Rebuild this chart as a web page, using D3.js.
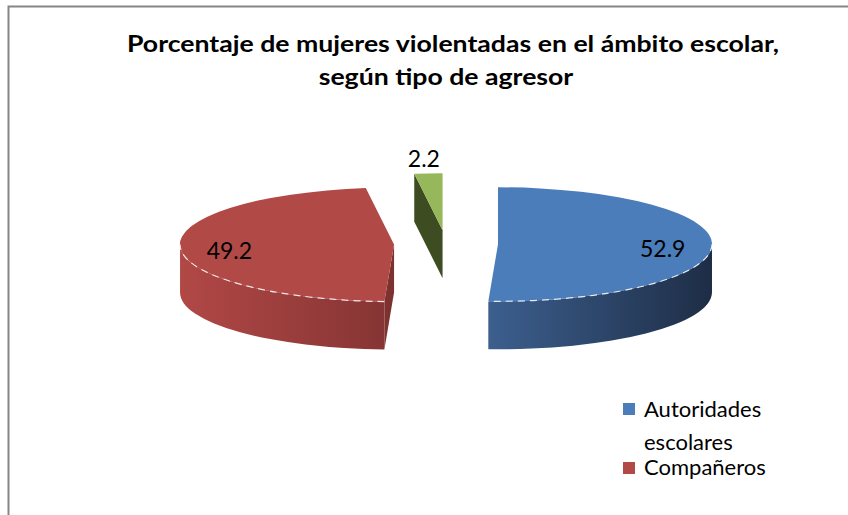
<!DOCTYPE html>
<html><head><meta charset="utf-8">
<script src="https://cdn.jsdelivr.net/npm/d3@7"></script>
<style>body{margin:0;background:#fff}svg{display:block}</style>
</head><body>
<svg id="c" width="848" height="515"></svg>
<script>
// ---- data ----
const categories = ["Autoridades escolares", "Compañeros", "Otros"];
const values = [52.9, 49.2, 2.2];
const valueLabels = ["52.9", "49.2", "2.2"];
const titleLines = ["Porcentaje de mujeres violentadas en el ámbito escolar,", "según tipo de agresor"];
const legendLines = [["Autoridades", "escolares"], ["Compañeros"]];

// ---- styles ----
const topColors = ["#4a7dba", "#b14a47", "#97b85a"];
const wallColors = [["#3c5f8e", "#1e2d46"], ["#b14846", "#863534"], ["#5c7230", "#3f4e22"]];
const cutColors = ["#27395a", "#7e3230", "#3e4c22"];

const svg = d3.select("#c");
const W = 848, H = 515;
svg.append("rect").attr("width", W).attr("height", H).attr("fill", "#fff");
// border (left + top)
svg.append("path").attr("d", "M8.5,515 V6.5 H848").attr("fill", "none")
  .attr("stroke", "#868686").attr("stroke-width", 2);

const defs = svg.append("defs");

// ---- pie geometry ----
const cx = 446, cy = 244, rx = 214, ry = 57, depth = 48, explode = 52;
const pie = d3.pie().sort(null).value(d => d).startAngle(0).endAngle(2 * Math.PI);
const arcs = pie(values);

function P(c, a, dz = 0) { return [c[0] + rx * Math.sin(a), c[1] - ry * Math.cos(a) + dz]; }
function fmt(p) { return p[0].toFixed(2) + "," + p[1].toFixed(2); }

const slices = arcs.map((d, i) => {
  const m = (d.startAngle + d.endAngle) / 2;
  const c = [cx + explode * Math.sin(m), cy - explode * (ry / rx) * Math.cos(m)];
  return { d, i, m, c };
});

const g = svg.append("g");

slices.forEach(s => {
  const { d, i, c } = s;
  const a0 = d.startAngle, a1 = d.endAngle;
  const gid = "wall" + i;
  const lg = defs.append("linearGradient").attr("id", gid).attr("x1", 0).attr("x2", 1).attr("y1", 0).attr("y2", 0);
  lg.append("stop").attr("offset", 0).attr("stop-color", wallColors[i][0]);
  lg.append("stop").attr("offset", 1).attr("stop-color", wallColors[i][1]);

  const sg = g.append("g");
  // cut faces (radial), only front-facing ones
  [[a0, a0 - Math.PI / 2], [a1, a1 + Math.PI / 2]].forEach(([a, n]) => {
    if (Math.cos(n) < -1e-6) {
      const r = P(c, a), rb = P(c, a, depth), cb = [c[0], c[1] + depth];
      sg.append("path").attr("d", `M${fmt(c)}L${fmt(r)}L${fmt(rb)}L${fmt(cb)}Z`)
        .attr("fill", cutColors[i]);
    }
  });
  // outer wall, front part only
  const lo = Math.max(a0, Math.PI / 2), hi = Math.min(a1, 3 * Math.PI / 2);
  if (hi > lo) {
    sg.append("path")
      .attr("d", `M${fmt(P(c, lo))}A${rx},${ry} 0 0 1 ${fmt(P(c, hi))}L${fmt(P(c, hi, depth))}A${rx},${ry} 0 0 0 ${fmt(P(c, lo, depth))}Z`)
      .attr("fill", `url(#${gid})`);
  }
  // top face
  const large = (a1 - a0) > Math.PI ? 1 : 0;
  sg.append("path")
    .attr("d", `M${fmt(c)}L${fmt(P(c, a0))}A${rx},${ry} 0 ${large} 1 ${fmt(P(c, a1))}Z`)
    .attr("fill", topColors[i]);
  // white dashed edge on front rim
  if (hi > lo) {
    sg.append("path")
      .attr("d", `M${fmt(P(c, lo))}A${rx},${ry} 0 0 1 ${fmt(P(c, hi))}`)
      .attr("fill", "none").attr("stroke", "#fff").attr("stroke-width", 1.2)
      .attr("stroke-dasharray", "7,5").attr("opacity", 0.85);
  }
});

// ---- data labels ----
const labelFont = "Lato, 'Open Sans', sans-serif";
slices.forEach(s => {
  const frac = s.d.value / d3.sum(values);
  const k = frac < 0.05 ? 1.32 : 0.77;
  const p = [s.c[0] + rx * k * Math.sin(s.m), s.c[1] - ry * k * Math.cos(s.m)];
  svg.append("text").attr("x", p[0]).attr("y", p[1] + 3)
    .attr("text-anchor", "middle").attr("dominant-baseline", "central")
    .attr("font-family", labelFont).attr("font-size", 23).attr("fill", "#000")
    .text(valueLabels[s.i]);
});

// ---- title ----
const t1 = svg.append("text").attr("x", 127).attr("y", 52)
  .attr("font-family", labelFont).attr("font-weight", "bold").attr("font-size", 22)
  .attr("fill", "#000").text(titleLines[0]);
const ratio = 652 / t1.node().getComputedTextLength();
t1.attr("textLength", 652).attr("lengthAdjust", "spacingAndGlyphs");
const t2 = svg.append("text").attr("y", 85)
  .attr("font-family", labelFont).attr("font-weight", "bold").attr("font-size", 22)
  .attr("fill", "#000").text(titleLines[1]);
const w2 = t2.node().getComputedTextLength() * ratio;
t2.attr("x", 446 - w2 / 2).attr("textLength", w2).attr("lengthAdjust", "spacingAndGlyphs");

// ---- legend ----
const legY = [[417, 450], [475]];
const legSq = [403, 462];
legendLines.forEach((lines, i) => {
  svg.append("rect").attr("x", 623).attr("y", legSq[i]).attr("width", 12).attr("height", 12)
    .attr("fill", topColors[i]);
  lines.forEach((ln, j) => {
    svg.append("text").attr("x", 644).attr("y", legY[i][j])
      .attr("font-family", labelFont).attr("font-size", 22).attr("fill", "#000").text(ln);
  });
});
</script>
</body></html>
